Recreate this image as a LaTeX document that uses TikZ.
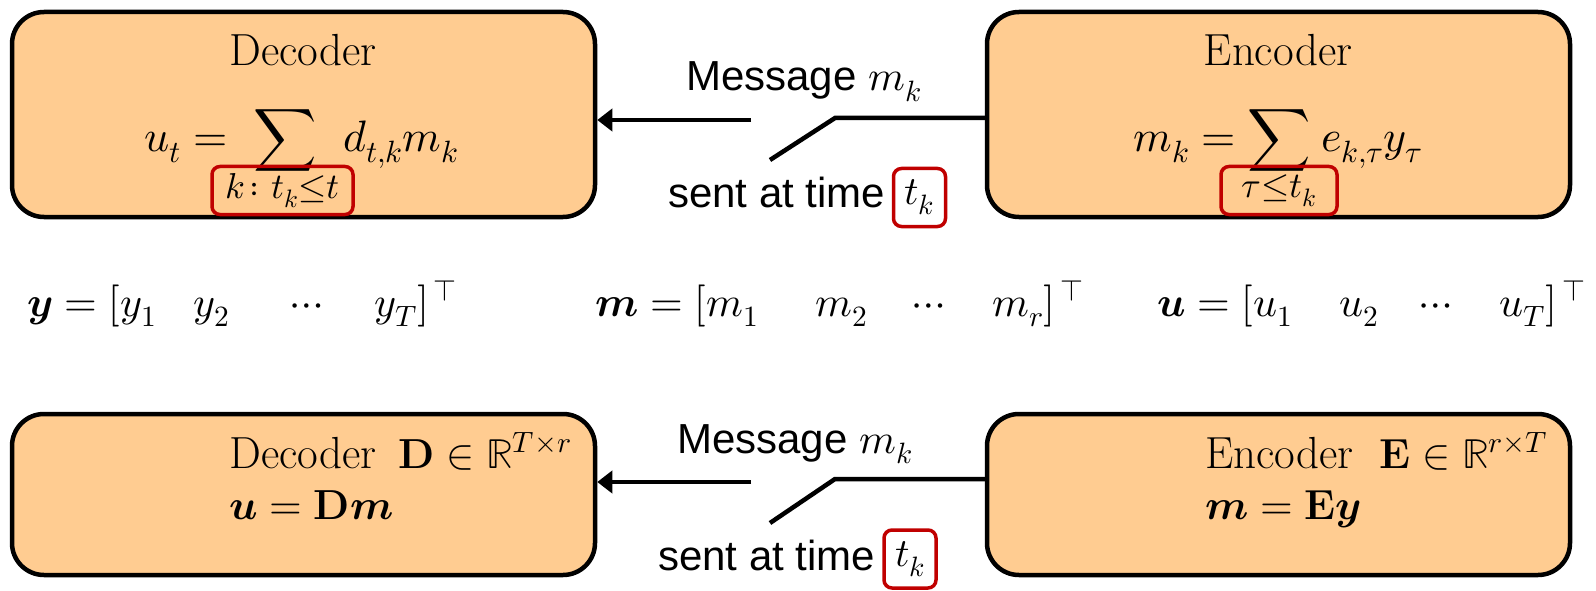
\documentclass[tikz,border=0pt]{standalone}
\usepackage{fontspec}
\usepackage{unicode-math}
\setmathfont{Latin Modern Math}
\setsansfont{Liberation Sans}
\usetikzlibrary{arrows.meta}
\definecolor{boxfill}{HTML}{FFCC91}
\definecolor{markred}{HTML}{C00000}

\begin{document}
\begin{tikzpicture}[x=1pt,y=-1pt,
  blockbox/.style={draw=black, line width=4.5pt, fill=boxfill, rounded corners=32pt,
    minimum width=583pt, inner sep=0pt},
  tallbox/.style={blockbox, minimum height=205pt},
  flatbox/.style={blockbox, minimum height=161pt},
  title/.style={font=\fontsize{45}{52}\selectfont, inner sep=0pt},
  eq/.style={font=\fontsize{42}{50}\selectfont, inner sep=0pt},
  bigeq/.style={font=\fontsize{44}{52}\selectfont, inner sep=0pt},
  idx/.style={draw=markred, line width=3.5pt, rounded corners=8pt, inner sep=0pt,
    font=\fontsize{40}{48}\selectfont},
  idxsub/.style={idx, font=\fontsize{36}{42}\selectfont},
  caption/.style={font=\sffamily\fontsize{42}{50}\selectfont, inner sep=0pt},
  conn/.style={draw=black, line width=4.5pt},
  sendarrow/.style={conn, -{Triangle[length=15pt,width=22pt]}}
]
\useasboundingbox (0,0) rectangle (1596,591);

% ---------- element-wise form ----------
\node[tallbox] (decA) at (303.5,114.5) {};
\node[tallbox] (encA) at (1278.5,114.5) {};

\node[title, anchor=base] (decAname) at (303,66) {Decoder};
\node[title, anchor=base] (encAname) at (1278,66) {Encoder};

\node[bigeq, anchor=base east] (decAlhs) at (228,152) {$u_t =$};
\node[bigeq, anchor=base] (decAsum) at (285,152) {$\displaystyle\sum$};
\node[bigeq, anchor=base west] (decArhs) at (343,152) {$d_{t,k}m_k$};
\node[idxsub, minimum width=141pt, minimum height=48pt] (decAidx) at (282.5,190.5)
  {$k\colon t_k{\le}t$};

\node[bigeq, anchor=base east] (encAlhs) at (1236,152) {$m_k =$};
\node[bigeq, anchor=base] (encAsum) at (1279,152) {$\displaystyle\sum$};
\node[bigeq, anchor=base west] (encArhs) at (1321,152) {$e_{k,\tau}y_\tau$};
\node[idxsub, minimum width=116pt, minimum height=48pt] (encAidx) at (1279,190.5)
  {$\tau{\le}t_k$};

\coordinate (tailA) at (751,120);
\coordinate (kneeA) at (835,118);
\coordinate (leverA) at (770,160);
\draw[sendarrow] (tailA) -- (tailA -| decA.east);
\draw[conn] (encA.west |- kneeA) -- (kneeA) -- (leverA);

\node[caption, anchor=base west] (msgA) at (686,91) {Message $m_k$};
\node[caption, anchor=base west] (sentA) at (668,207) {sent at time};
\node[idx, minimum width=52pt, minimum height=58pt] (tkA) at (919.5,197.5) {$t_k$};

% ---------- vectors ----------
\node[eq, anchor=base west] (vecY) at (27,316)
  {$\symbfit{y} = [\makebox[73pt][l]{$y_1$}\makebox[97pt][l]{$y_2$}\makebox[84pt][l]{$\cdots$}y_T]^{\,\top}$};
\node[eq, anchor=base west] (vecM) at (595,316)
  {$\symbfit{m} = [\makebox[109pt][l]{$m_1$}\makebox[97pt][l]{$m_2$}\makebox[80pt][l]{$\cdots$}m_r]^{\,\top}$};
\node[eq, anchor=base west] (vecU) at (1157,316)
  {$\symbfit{u} = [\makebox[86pt][l]{$u_1$}\makebox[80pt][l]{$u_2$}\makebox[80pt][l]{$\cdots$}u_T]^{\,\top}$};

% ---------- matrix form ----------
\node[flatbox] (decB) at (303.5,494.5) {};
\node[flatbox] (encB) at (1278.5,494.5) {};

\node[title, anchor=base west] (decBname) at (229,468)
  {Decoder\hspace{22pt}{\fontsize{42}{50}\selectfont$\mathbf{D}\in\mathbb{R}^{T\times r}$}};
\node[eq, anchor=base west] (decBeq) at (229,519) {$\symbfit{u}=\mathbf{D}\symbfit{m}$};

\node[title, anchor=base west] (encBname) at (1205,468)
  {Encoder\hspace{26pt}{\fontsize{42}{50}\selectfont$\mathbf{E}\in\mathbb{R}^{r\times T}$}};
\node[eq, anchor=base west] (encBeq) at (1205,519) {$\symbfit{m}=\mathbf{E}\symbfit{y}$};

\coordinate (tailB) at (751,482);
\coordinate (kneeB) at (835,479);
\coordinate (leverB) at (770,523);
\draw[sendarrow] (tailB) -- (tailB -| decB.east);
\draw[conn] (encB.west |- kneeB) -- (kneeB) -- (leverB);

\node[caption, anchor=base west] (msgB) at (677,453) {Message $m_k$};
\node[caption, anchor=base west] (sentB) at (658,570) {sent at time};
\node[idx, minimum width=52pt, minimum height=58pt] (tkB) at (910,559) {$t_k$};
\end{tikzpicture}
\end{document}
